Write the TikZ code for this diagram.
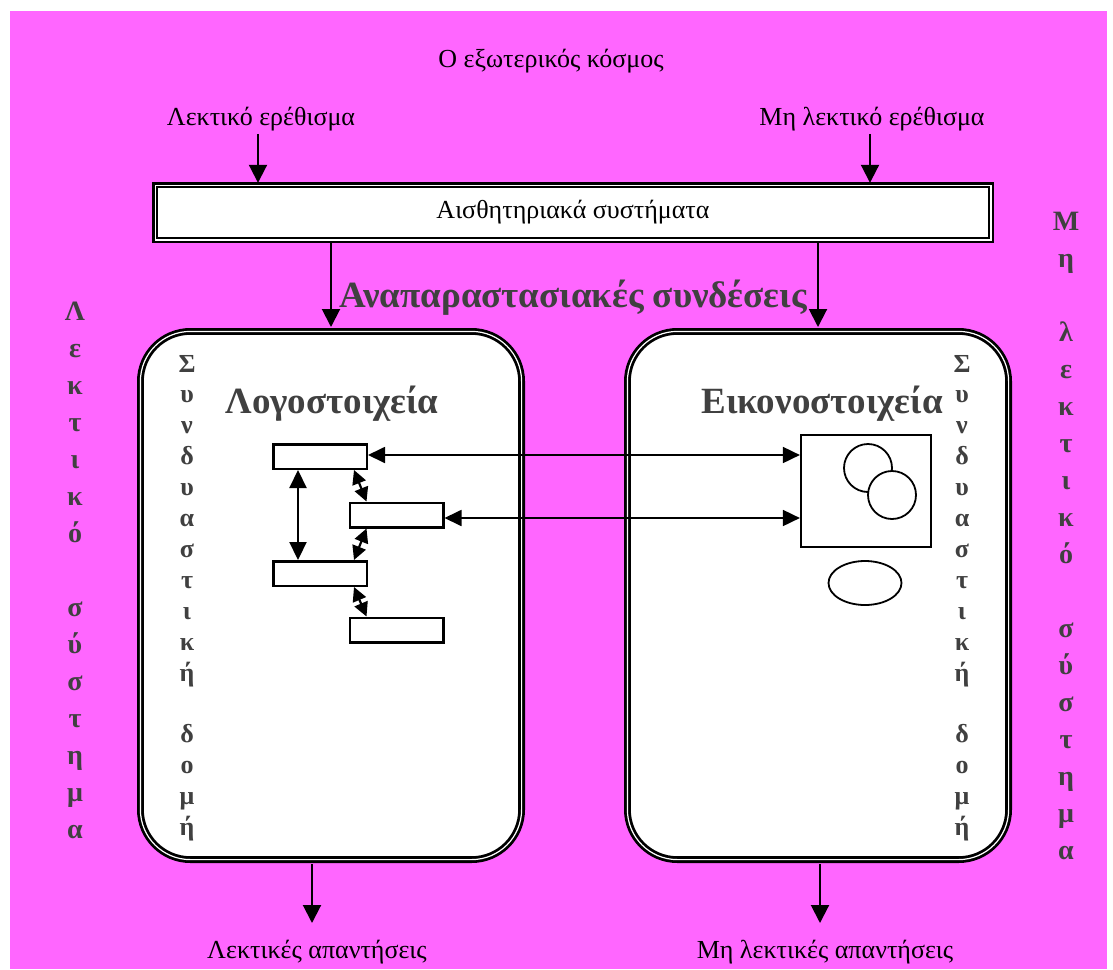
\documentclass[tikz,border=0pt]{standalone}
\usepackage{fontspec}
\setmainfont{Liberation Serif}
\usetikzlibrary{arrows.meta,shapes.geometric}
\definecolor{pinkbg}{HTML}{FF66FF}
\definecolor{titlegray}{HTML}{404040}

\begin{document}
\begin{tikzpicture}[x=1pt,y=-1pt,
  plain/.style={font=\fontsize{26}{30}\selectfont, inner sep=0pt, anchor=base},
  bigtitle/.style={font=\bfseries\fontsize{37}{41}\selectfont, text=titlegray, inner sep=0pt, anchor=base},
  innerlet/.style={font=\bfseries\fontsize{26}{30}\selectfont, text=titlegray, inner sep=0pt, anchor=base},
  outerlet/.style={font=\bfseries\fontsize{28}{32}\selectfont, text=titlegray, inner sep=0pt, anchor=base},
  dblbox/.style={draw=black, double=white, line width=2.8pt, double distance=1.2pt,
                 rounded corners=50pt, inner sep=0pt},
  topbox/.style={draw=black, double=white, line width=2.6pt, double distance=1.2pt,
                 fill=white, inner sep=0pt, font=\fontsize{26}{30}\selectfont},
  wordbox/.style={draw=black, fill=white, line width=2.5pt, minimum width=93.5pt,
                  minimum height=24.5pt, inner sep=0pt},
  downarrow/.style={line width=2pt, -{Triangle[length=18pt,width=18pt]}},
  linkarrow/.style={line width=1.8pt, {Triangle[length=17pt,width=16pt]}-{Triangle[length=17pt,width=16pt]}},
  vlink/.style={line width=2.2pt, {Triangle[length=18pt,width=17pt]}-{Triangle[length=18pt,width=17pt]}},
  diaglink/.style={line width=2.2pt, {Triangle[length=14pt,width=14pt]}-{Triangle[length=14pt,width=14pt]}},
  figline/.style={draw=black, fill=white, line width=1.8pt, inner sep=0pt}
]
\useasboundingbox (0,0) rectangle (1113,969);
\fill[white] (0,0) rectangle (1113,969);
\fill[pinkbg] (10,11) rectangle (1107,969);

% outside world and stimuli
\node[plain] (world) at (551,67) {Ο εξωτερικός κόσμος};
\node[plain] (verbin) at (261,125) {Λεκτικό ερέθισμα};
\node[plain] (nonverbin) at (872,125) {Μη λεκτικό ερέθισμα};

% sensory systems
\node[topbox, minimum width=835.8pt, minimum height=54.8pt] (sens) at (573,212.5) {Αισθητηριακά συστήματα};

\draw[downarrow, shorten >=1pt] ([yshift=-3pt]verbin.south -| 258,0) -- (sens.north -| 258,0);
\draw[downarrow, shorten >=1pt] ([yshift=-3pt]nonverbin.south -| 870,0) -- (sens.north -| 870,0);

% the two subsystems
\node[dblbox, fill=white, minimum width=381.2pt, minimum height=528.2pt] (lbox) at (331,595.5) {};
\node[dblbox, fill=white, minimum width=381.2pt, minimum height=528.2pt] (rbox) at (818,595.5) {};

\node[bigtitle] (repr) at (573,307) {Αναπαραστασιακές συνδέσεις};

\draw[downarrow, shorten >=3pt] (sens.south -| lbox.north) -- (lbox.north);
\draw[downarrow, shorten >=3pt] (sens.south -| rbox.north) -- (rbox.north);

\node[bigtitle] (logo) at (332,413) {Λογοστοιχεία};
\node[bigtitle] (eiko) at (822,413) {Εικονοστοιχεία};

% side labels
\foreach \ch [count=\i from 0] in {Λ,ε,κ,τ,ι,κ,ό,{},σ,ύ,σ,τ,η,μ,α}
  \node[outerlet] (lv\i) at (75,320+37*\i) {\ch};
\foreach \ch [count=\i from 0] in {Μ,η,{},λ,ε,κ,τ,ι,κ,ό,{},σ,ύ,σ,τ,η,μ,α}
  \node[outerlet] (nv\i) at (1066,230+37*\i) {\ch};
\foreach \ch [count=\i from 0] in {Σ,υ,ν,δ,υ,α,σ,τ,ι,κ,ή,{},δ,ο,μ,ή} {
  \node[innerlet] (ls\i) at (187,372+30.9*\i) {\ch};
  \node[innerlet] (rs\i) at (962,372+30.9*\i) {\ch};
}

% verbal units
\node[wordbox] (w1) at (320,456.5) {};
\node[wordbox] (w2) at (396.5,515) {};
\node[wordbox] (w3) at (320,573.5) {};
\node[wordbox] (w4) at (396.5,630) {};

\draw[vlink] ([xshift=26pt]w1.south west) -- ([xshift=26pt]w3.north west);
\draw[diaglink] ([xshift=-14pt]w1.south east) -- ([xshift=18pt]w2.north west);
\draw[diaglink] ([xshift=18pt]w2.south west) -- ([xshift=-14pt]w3.north east);
\draw[diaglink] ([xshift=-14pt]w3.south east) -- ([xshift=18pt]w4.north west);

% image units
\node[draw=black, fill=white, line width=2.2pt, minimum width=130pt, minimum height=112pt, inner sep=0pt] (sq) at (866,491) {};
\node[figline, circle, minimum size=48pt] (c1) at (868,468) {};
\node[figline, circle, minimum size=48pt] (c2) at (892,495) {};
\node[figline, ellipse, minimum width=73pt, minimum height=44pt] (el) at (865,583) {};

\draw[linkarrow] ([yshift=1.5pt]w1.east) -- ([yshift=1.5pt]sq.west |- w1.east);
\draw[linkarrow] ([yshift=-3pt]w2.east) -- ([yshift=-3pt]sq.west |- w2.east);

% responses
\node[plain] (verbout) at (317,958) {Λεκτικές απαντήσεις};
\node[plain] (nonverbout) at (825,958) {Μη λεκτικές απαντήσεις};
\coordinate (verbtip) at (312,923);
\coordinate (nonverbtip) at (820,923);
\draw[downarrow, shorten <=3pt] (lbox.south -| verbtip) -- (verbtip);
\draw[downarrow, shorten <=3pt] (rbox.south -| nonverbtip) -- (nonverbtip);
\end{tikzpicture}
\end{document}
